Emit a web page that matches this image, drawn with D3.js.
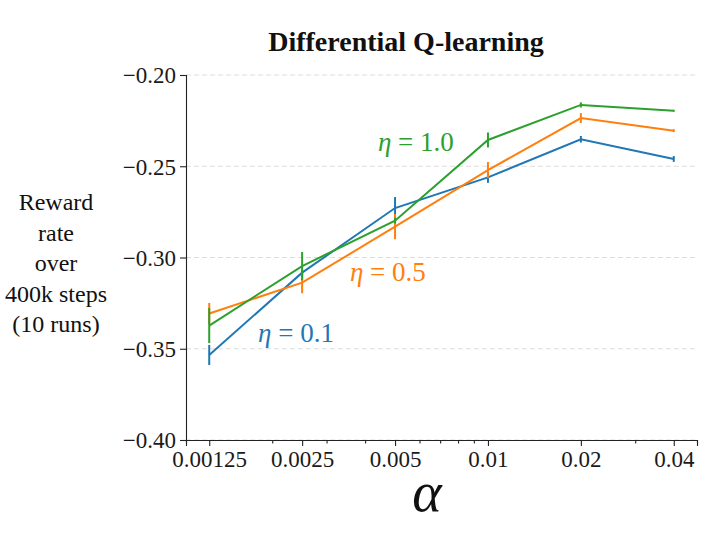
<!DOCTYPE html>
<html lang="en">
<head>
  <meta charset="UTF-8">
  <title>Differential Q-learning</title>
  <style>
    body { margin: 0; background: white; }
    text { font-family: "Liberation Serif", "DejaVu Serif", serif; }
  </style>
</head>
<body>
  <script src="https://d3js.org/d3.v7.min.js"></script>
  <script>
    // step sizes and tick labels
    let alphas = [0.00125, 0.0025, 0.005, 0.01, 0.02, 0.04];
    let xTickLabels = ["0.00125", "0.0025", "0.005", "0.01", "0.02", "0.04"];
    let xMinorTicks = [0.002, 0.003, 0.004, 0.006, 0.007, 0.008, 0.009, 0.03];
    let yTicks = [-0.40, -0.35, -0.30, -0.25, -0.20];

    // mean reward rate for each eta, and error bar half-widths
    let eta01 = [-0.3534, -0.3083, -0.2729, -0.2561, -0.2352, -0.2460];
    let eta05 = [-0.3307, -0.3138, -0.2831, -0.2521, -0.2236, -0.2305];
    let eta10 = [-0.3373, -0.3047, -0.2798, -0.2356, -0.2164, -0.2196];
    let err01 = [0.0055, 0.0015, 0.0060, 0.0030, 0.0018, 0.0016];
    let err05 = [0.0058, 0.0058, 0.0069, 0.0044, 0.0027, 0.0008];
    let err10 = [0.0096, 0.0077, 0.0016, 0.0041, 0.0014, 0.0005];

    let etaNames = ["0.1", "0.5", "1.0"];
    let colors = ["#1f77b4", "#ff7f0e", "#2ca02c"];
    // where the eta labels sit, in data coordinates
    let labelAlpha = [0.00180, 0.00357, 0.00440];
    let labelValue = [-0.3463, -0.3129, -0.2416];

    let series = [
      { name: etaNames[0], values: eta01, errs: err01, color: colors[0] },
      { name: etaNames[1], values: eta05, errs: err05, color: colors[1] },
      { name: etaNames[2], values: eta10, errs: err10, color: colors[2] }
    ];

    let svgWidth = 723;
    let svgHeight = 542;

    let svg = d3.select("body")
      .append("svg")
      .attr("width", svgWidth)
      .attr("height", svgHeight);

    // log x axis with matplotlib-like 5% margins (in log space)
    let x = d3.scaleLog()
      .domain([0.00125 / Math.pow(2, 0.25), 0.04 * Math.pow(2, 0.25)])
      .range([186, 697]);

    let y = d3.scaleLinear()
      .domain([-0.40, -0.20])
      .range([440, 75]);

    // dashed grid lines
    svg.append("g")
      .selectAll("line")
      .data(yTicks)
      .join("line")
      .attr("x1", x.range()[0])
      .attr("x2", x.range()[1])
      .attr("y1", d => y(d))
      .attr("y2", d => y(d))
      .attr("stroke", "#dddddd")
      .attr("stroke-width", 1)
      .attr("stroke-dasharray", "5,3");

    // y axis
    let yAxis = svg.append("g")
      .attr("transform", "translate(" + x.range()[0] + ",0)")
      .call(d3.axisLeft(y)
        .tickValues(yTicks)
        .tickSize(6)
        .tickPadding(4)
        .tickFormat(d => d3.format(".2f")(d).replace("-", "\u2212")));

    // x axis: minor ticks then major ticks
    svg.append("g")
      .attr("transform", "translate(0," + y.range()[0] + ")")
      .call(d3.axisBottom(x)
        .tickValues(xMinorTicks)
        .tickSize(3.5)
        .tickFormat(""));

    let xAxis = svg.append("g")
      .attr("transform", "translate(0," + y.range()[0] + ")")
      .call(d3.axisBottom(x)
        .tickValues(alphas)
        .tickSize(6)
        .tickPadding(5)
        .tickFormat((d, i) => xTickLabels[i]));

    svg.selectAll("g").attr("font-family", null);

    svg.selectAll(".domain, .tick line")
      .attr("stroke", "#222")
      .attr("stroke-width", 1.1);

    svg.selectAll(".tick text")
      .attr("fill", "#1a1a1a")
      .style("font-size", "23px");

    yAxis.selectAll(".tick text").attr("dy", "0.34em");
    xAxis.selectAll(".tick text").attr("dy", "0.70em");

    // lines and error bars
    let line = d3.line()
      .x((d, i) => x(alphas[i]))
      .y(d => y(d));

    series.forEach(function(s) {
      let g = svg.append("g");

      g.selectAll("line.err")
        .data(s.values)
        .join("line")
        .attr("class", "err")
        .attr("x1", (d, i) => x(alphas[i]))
        .attr("x2", (d, i) => x(alphas[i]))
        .attr("y1", (d, i) => y(d - s.errs[i]))
        .attr("y2", (d, i) => y(d + s.errs[i]))
        .attr("stroke", s.color)
        .attr("stroke-width", 2);

      g.append("path")
        .datum(s.values)
        .attr("d", line)
        .attr("fill", "none")
        .attr("stroke", s.color)
        .attr("stroke-width", 2);
    });

    // eta labels
    series.forEach(function(s, i) {
      let t = svg.append("text")
        .attr("x", x(labelAlpha[i]))
        .attr("y", y(labelValue[i]))
        .attr("fill", s.color)
        .style("font-size", "27px");
      t.append("tspan").style("font-style", "italic").text("\u03b7");
      t.append("tspan").text(" = " + s.name);
    });

    // title
    svg.append("text")
      .attr("x", 406)
      .attr("y", 51)
      .attr("text-anchor", "middle")
      .style("font-size", "28px")
      .style("font-weight", "bold")
      .attr("fill", "#111")
      .text("Differential Q-learning");

    // y label, one line per row
    let yLabelLines = ["Reward", "rate", "over", "400k steps", "(10 runs)"];
    svg.append("g")
      .selectAll("text")
      .data(yLabelLines)
      .join("text")
      .attr("x", 56)
      .attr("y", (d, i) => 210 + i * 30.5)
      .attr("text-anchor", "middle")
      .attr("fill", "#111")
      .style("font-size", "24px")
      .text(d => d);

    // x label
    svg.append("text")
      .attr("x", 427)
      .attr("y", 511)
      .attr("text-anchor", "middle")
      .attr("fill", "#111")
      .style("font-size", "56px")
      .style("font-style", "italic")
      .text("\u03b1");
  </script>
</body>
</html>
